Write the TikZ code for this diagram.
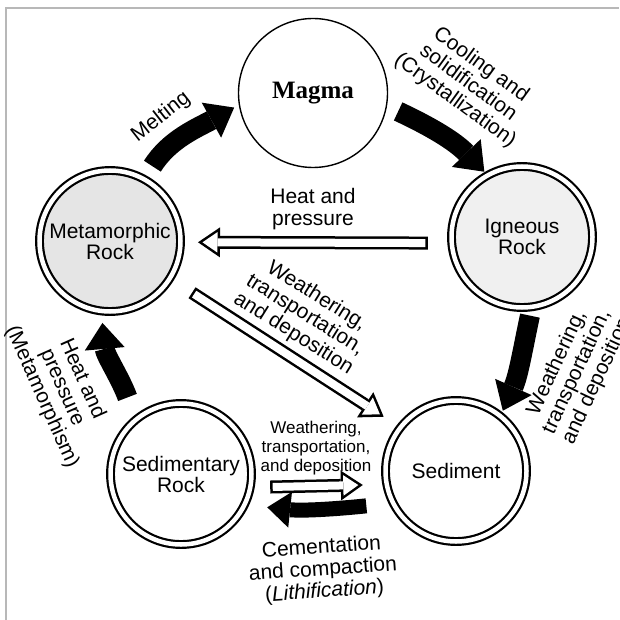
\documentclass[tikz,border=0pt]{standalone}
\usepackage{fontspec}
\setmainfont{Liberation Serif}
\setsansfont{Liberation Sans}
\usetikzlibrary{arrows.meta}
\tikzstyle{magmacircle} = [circle, minimum size=149pt, inner sep=0pt, outer sep=0pt, draw=black, line width=1.4pt, font=\bfseries\fontsize{25}{25}\selectfont]
\tikzstyle{rockdouble} = [circle, minimum size=141pt, inner sep=0pt, outer sep=0pt, draw=black, line width=2.2pt, double=white, double distance=4.5pt, align=center, font=\sffamily\fontsize{21}{21}\selectfont]
\tikzstyle{solidarrow} = [line width=20pt, -{Triangle[length=26pt,width=40pt,line width=0pt]}]
\tikzstyle{hollowout} = [line width=13pt, -{Triangle[length=22pt,width=30pt,line width=0pt]}]
\tikzstyle{hollowin} = [white, line width=8pt, -{Triangle[length=15pt,width=20.5pt,line width=0pt]}]
\tikzstyle{lbl} = [align=center, inner sep=0pt, font=\sffamily\fontsize{21}{22}\selectfont]

\begin{document}
\begin{tikzpicture}[x=1pt, y=1pt]
    \useasboundingbox (0,0) rectangle (619,-620);
    \draw [black!28, line width=1.2pt] (6,-620) -- (6,-8) -- (619,-8);
    % the five stages
    \node (magma) [magmacircle] at (313,-93) {Magma};
    \node (meta) [rockdouble, fill=black!10] at (110,-241) {Metamorphic\\Rock};
    \node (igneous) [rockdouble, fill=black!6] at (522,-237) {Igneous\\Rock};
    \node (sedrock) [rockdouble, fill=white] at (181,-474) {Sedimentary\\Rock};
    \node (sediment) [rockdouble, fill=white] at (456,-471) {Sediment};
    % black arrows round the cycle
    \draw [solidarrow, shorten <=15.5pt, shorten >=6pt] (meta.61) to[out=58, in=209] (magma.189);
    \draw [solidarrow, shorten <=13pt, shorten >=5pt] (magma.-10) to[out=-25, in=134] (igneous.119);
    \draw [solidarrow, shorten <=9pt, shorten >=6pt] (igneous.-82) to[out=-102, in=66] (sediment.51);
    \draw [solidarrow, line width=15pt, -{Triangle[length=23pt,width=36pt,line width=0pt]}, shorten <=27pt, shorten >=23pt] (sediment.207) to[out=186, in=-6] (sedrock.-26);
    \draw [solidarrow, shorten <=24pt, shorten >=12pt] (sedrock.130) to[out=110, in=-85] (meta.263);
    % hollow arrows
    \draw [hollowout, shorten <=24pt, shorten >=17.5pt] (igneous.185) -- (meta.-1);
    \draw [hollowin, shorten <=26.5pt, shorten >=22pt] (igneous.185) -- (meta.-1);
    \draw [hollowout, shorten <=26.5pt, shorten >=20pt] (meta.-32) -- (sediment.142);
    \draw [hollowin, shorten <=29pt, shorten >=24.5pt] (meta.-32) -- (sediment.142);
    \draw [hollowout, shorten <=20pt, shorten >=24pt] (sedrock.-11) -- (sediment.191);
    \draw [hollowin, shorten <=22.5pt, shorten >=28.5pt] (sedrock.-11) -- (sediment.191);
    % labels
    \node (meltlbl) [lbl, rotate=38] at (161,-117) {Melting};
    \node (coollbl) [lbl, rotate=-36] at (468,-83) {Cooling and\\solidification\\(Crystallization)};
    \node (heatlbl) [lbl] at (313,-209) {Heat and\\pressure};
    \node (weathlbl) [lbl, rotate=-32] at (305,-315) {Weathering,\\transportation,\\and deposition};
    \node (erodelbl) [lbl, rotate=65] at (577,-372) {Weathering,\\transportation,\\and deposition};
    \node (metalbl) [lbl, rotate=-66] at (62,-388) {Heat and\\pressure\\(Metamorphism)};
    \node (smalllbl) [lbl, font=\sffamily\fontsize{17}{19}\selectfont] at (316,-448) {Weathering,\\transportation,\\and deposition};
    \node (cemlbl) [lbl, rotate=4] at (323,-570) {Cementation\\and compaction\\(\textit{Lithification})};
\end{tikzpicture}
\end{document}
